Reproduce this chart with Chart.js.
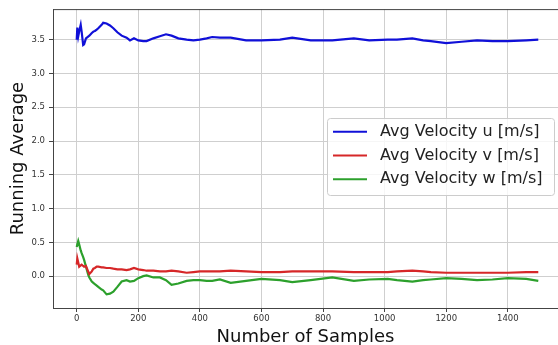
<!DOCTYPE html>
<html>
<head>
<meta charset="utf-8">
<script src="https://cdn.jsdelivr.net/npm/chart.js@4.4.1/dist/chart.umd.min.js"></script>
<style>
  html, body { margin: 0; padding: 0; background: #fff; }
  canvas { display: block; }
</style>
</head>
<body>
<canvas id="chart" width="558" height="345"></canvas>
<script>
// running averages of the three velocity components, sampled along the run
const samples = [0, 2, 5, 8, 13, 16, 21, 24, 30, 38, 41, 49, 54, 59, 65, 70, 81, 86, 97, 108,
  119, 132, 146, 162, 173, 186, 200, 216, 227, 249, 270, 290, 308, 330, 357, 379, 400, 422,
  440, 465, 500, 550, 600, 660, 700, 760, 830, 900, 950, 1010, 1040, 1090, 1125, 1150, 1200,
  1250, 1300, 1350, 1400, 1460, 1499];
const avgU = [3.50, 3.68, 3.55, 3.62, 3.72, 3.62, 3.42, 3.43, 3.52, 3.55, 3.56, 3.60, 3.62, 3.63,
  3.65, 3.67, 3.72, 3.75, 3.74, 3.71, 3.67, 3.61, 3.56, 3.53, 3.49, 3.52, 3.49, 3.48, 3.48, 3.52,
  3.55, 3.58, 3.56, 3.52, 3.50, 3.49, 3.50, 3.52, 3.54, 3.53, 3.53, 3.49, 3.49, 3.50, 3.53, 3.49,
  3.49, 3.52, 3.49, 3.50, 3.50, 3.52, 3.49, 3.48, 3.45, 3.47, 3.49, 3.48, 3.48, 3.49, 3.50];
const avgV = [0.17, 0.26, 0.20, 0.14, 0.16, 0.17, 0.15, 0.14, 0.15, 0.06, 0.03, 0.07, 0.11, 0.12,
  0.14, 0.14, 0.13, 0.13, 0.12, 0.12, 0.11, 0.10, 0.10, 0.09, 0.10, 0.12, 0.10, 0.09, 0.08, 0.08,
  0.07, 0.07, 0.08, 0.07, 0.05, 0.06, 0.07, 0.07, 0.07, 0.07, 0.08, 0.07, 0.06, 0.06, 0.07, 0.07,
  0.07, 0.06, 0.06, 0.06, 0.07, 0.08, 0.07, 0.06, 0.05, 0.05, 0.05, 0.05, 0.05, 0.06, 0.06];
const avgW = [0.43, 0.47, 0.52, 0.47, 0.38, 0.34, 0.28, 0.24, 0.14, 0.01, -0.02, -0.08, -0.10,
  -0.12, -0.14, -0.16, -0.20, -0.21, -0.27, -0.26, -0.23, -0.16, -0.08, -0.06, -0.08, -0.07, -0.03,
  0.00, 0.01, -0.02, -0.02, -0.06, -0.13, -0.11, -0.07, -0.06, -0.06, -0.07, -0.07, -0.05, -0.10,
  -0.07, -0.04, -0.06, -0.09, -0.06, -0.02, -0.07, -0.05, -0.04, -0.06, -0.08, -0.06, -0.05,
  -0.03, -0.04, -0.06, -0.05, -0.03, -0.04, -0.07];

const seriesNames = ["Avg Velocity u [m/s]", "Avg Velocity v [m/s]", "Avg Velocity w [m/s]"];
const xTicks = [0, 200, 400, 600, 800, 1000, 1200, 1400];
const yTicks = [0, 0.5, 1.0, 1.5, 2.0, 2.5, 3.0, 3.5];

const colors = ["#1010d8", "#d62728", "#2ca02c"];
const FONT = "DejaVu Sans";

const toPoints = (ys) => samples.map((s, i) => ({ x: s, y: ys[i] }));

// box legend + top spine, drawn on top like matplotlib does
const frameAndLegend = {
  id: "frameAndLegend",
  afterDatasetsDraw(chart) {
    const { ctx, chartArea: a } = chart;
    ctx.save();
    ctx.strokeStyle = "#444";
    ctx.lineWidth = 1;
    ctx.beginPath();
    ctx.moveTo(a.left, a.top + 0.5);
    ctx.lineTo(a.right, a.top + 0.5);
    ctx.stroke();
    ctx.restore();
  },
  afterDraw(chart) {
    const ctx = chart.ctx;
    const bx = 327.5, by = 118.5, bw = 227, bh = 77;
    ctx.save();
    ctx.beginPath();
    ctx.roundRect(bx, by, bw, bh, 3);
    ctx.fillStyle = "rgba(255,255,255,0.8)";
    ctx.fill();
    ctx.strokeStyle = "#cccccc";
    ctx.lineWidth = 1;
    ctx.stroke();
    ctx.font = "16px '" + FONT + "'";
    ctx.textBaseline = "middle";
    ctx.fillStyle = "#222";
    chart.data.datasets.forEach((ds, i) => {
      const y = 131.7 + i * 23.8;
      ctx.strokeStyle = ds.borderColor;
      ctx.lineWidth = 2;
      ctx.beginPath();
      ctx.moveTo(333, y);
      ctx.lineTo(367, y);
      ctx.stroke();
      ctx.fillText(ds.label, 380, y);
    });
    ctx.restore();
  }
};

new Chart(document.getElementById("chart"), {
  type: "line",
  data: {
    datasets: [avgU, avgV, avgW].map((ys, i) => ({
      label: seriesNames[i],
      data: toPoints(ys),
      borderColor: colors[i],
      backgroundColor: colors[i],
      borderWidth: 2.2,
      pointRadius: 0,
      tension: 0,
      fill: false
    }))
  },
  options: {
    responsive: false,
    animation: false,
    devicePixelRatio: 1,
    layout: { padding: { top: 5, right: 0, left: 0, bottom: 0 } },
    plugins: { legend: { display: false }, tooltip: { enabled: false } },
    scales: {
      x: {
        type: "linear",
        min: -77,
        max: 1563,
        afterBuildTicks: (s) => { s.ticks = xTicks.map((v) => ({ value: v })); },
        afterFit: (s) => { s.height = 37; },
        ticks: {
          autoSkip: false,
          maxRotation: 0,
          padding: 2,
          color: "#333",
          font: { family: FONT, size: 8.5 },
          callback: (v) => String(v)
        },
        grid: { color: "#cfcfcf", lineWidth: 1, tickLength: 4, tickColor: "#444" },
        border: { color: "#444", width: 1 },
        title: {
          display: true,
          text: "Number of Samples",
          color: "#111",
          font: { family: FONT, size: 18 },
          padding: { top: 0, bottom: -3 }
        }
      },
      y: {
        min: -0.472,
        max: 3.953,
        afterBuildTicks: (s) => { s.ticks = yTicks.map((v) => ({ value: v })); },
        afterFit: (s) => { s.width = 53; },
        ticks: {
          padding: 4,
          color: "#333",
          font: { family: FONT, size: 8.5 },
          callback: (v) => Number(v).toFixed(1)
        },
        grid: { color: "#cfcfcf", lineWidth: 1, tickLength: 4, tickColor: "#444" },
        border: { color: "#444", width: 1 },
        title: {
          display: true,
          text: "Running Average",
          color: "#111",
          font: { family: FONT, size: 18 },
          padding: { top: 8, bottom: 0 }
        }
      }
    }
  },
  plugins: [frameAndLegend]
});
</script>
</body>
</html>
